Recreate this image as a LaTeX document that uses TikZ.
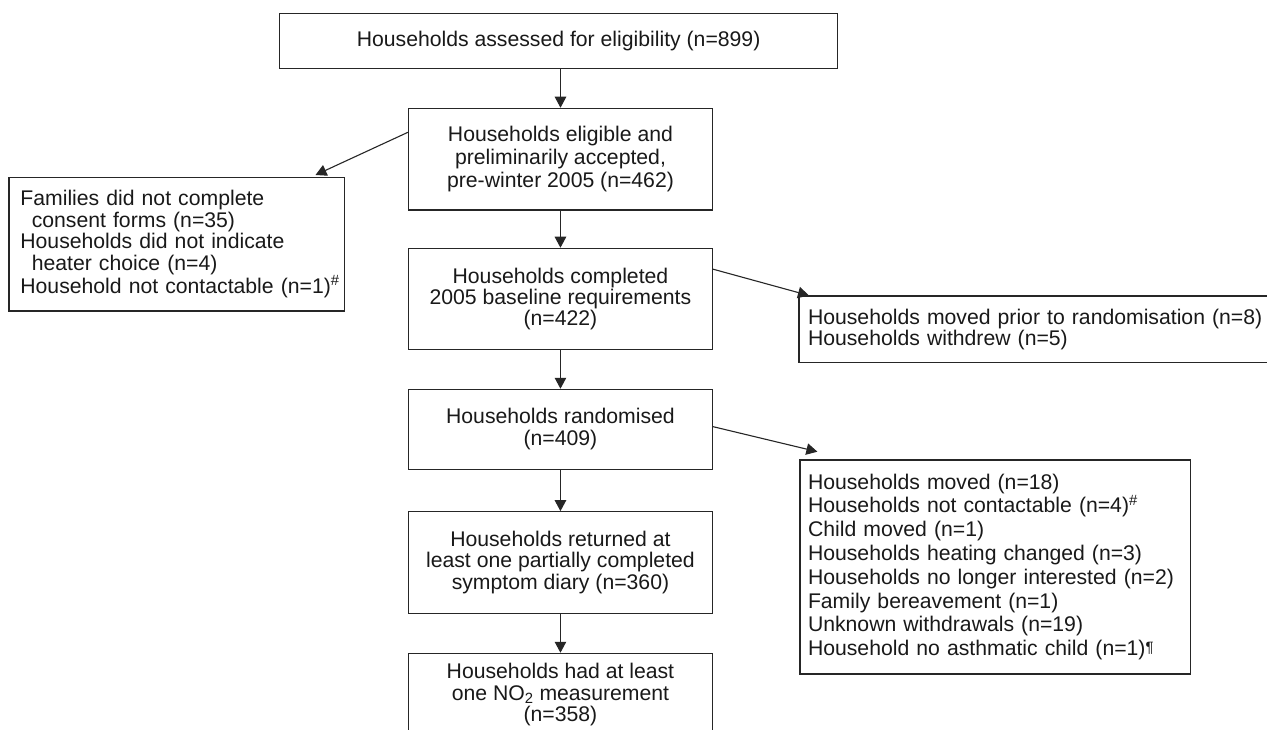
\documentclass[tikz,border=0pt]{standalone}
\usepackage{fontspec}
\setmainfont{Liberation Sans}
\usetikzlibrary{arrows.meta}
\begin{document}
\begin{tikzpicture}[x=1pt,y=-1pt,
  box/.style={draw=black!85, line width=1.1pt, inner sep=0pt, text=black!90,
    font=\fontsize{21.2}{22}\selectfont},
  cbox/.style={box, align=center, minimum width=303.9pt},
  lbox/.style={box, align=left},
  arr/.style={draw=black!85, line width=1.1pt, -{Triangle[length=11pt,width=11.5pt]}}]
\useasboundingbox (0,0) rectangle (1267,730);
\clip (0,0) rectangle (1267,730);
\fill[white] (0,0) rectangle (1267,730);

% main column
\node[box, minimum width=558pt, minimum height=55pt] (b1) at (558.6,40.8)
  {Households assessed for eligibility (n=899)};
\node[cbox, minimum height=101.7pt, font=\fontsize{21.2}{23}\selectfont] (b2) at (560.5,159.15)
  {Households eligible and\\ preliminarily accepted,\\ pre-winter 2005 (n=462)};
\node[cbox, minimum height=101pt, font=\fontsize{21.2}{21}\selectfont] (b3) at (560.45,298.8)
  {Households completed\\ 2005 baseline requirements\\ (n=422)};
\node[cbox, minimum height=80pt, font=\fontsize{21.2}{21.7}\selectfont] (b4) at (560.45,429.3)
  {Households randomised\\ (n=409)};
\node[cbox, minimum height=101.6pt, font=\fontsize{21.2}{21.7}\selectfont] (b5) at (560.45,562.5)
  {Households returned at\\ least one partially completed\\ symptom diary (n=360)};
\node[cbox, minimum height=83pt, font=\fontsize{21.2}{21.5}\selectfont] (b6) at (560.45,694.8)
  {Households had at least\\ one NO\textsubscript{2} measurement\\ (n=358)};

% side boxes
\node[lbox, inner xsep=11.4pt, text width=312.7pt, minimum height=133.5pt,
  font=\fontsize{21.2}{21.5}\selectfont] (bL) at (176.75,244.25)
  {\mbox{Families did not complete}\\
   \mbox{\hspace*{11.4pt}consent forms (n=35)}\\
   \mbox{Households did not indicate}\\
   \mbox{\hspace*{11.4pt}heater choice (n=4)}\\
   \mbox{Household not contactable (n=1)\textsuperscript{\#}}};
\node[lbox, inner xsep=9pt, text width=473pt, minimum height=66.7pt,
  font=\fontsize{21.2}{21.3}\selectfont] (bA) at (1044.5,329.35)
  {Households moved prior to randomisation (n=8)\\
   Households withdrew (n=5)};
\node[lbox, inner xsep=8pt, text width=374.7pt, minimum height=214pt,
  font=\fontsize{21.2}{23.8}\selectfont] (bB) at (995.35,567)
  {Households moved (n=18)\\
   Households not contactable (n=4)\textsuperscript{\#}\\
   Child moved (n=1)\\
   Households heating changed (n=3)\\
   Households no longer interested (n=2)\\
   Family bereavement (n=1)\\
   Unknown withdrawals (n=19)\\
   \mbox{Household no asthmatic child (n=1)\raisebox{3pt}{\fontsize{15}{15}\selectfont ¶}}};

% free ends of the side arrows
\coordinate (tL) at (315.5,175);
\coordinate (tA) at (809,295.5);
\coordinate (tB) at (817.4,451.7);

% vertical connectors
\draw[arr] (b2.north |- b1.south) -- (b2.north);
\draw[arr] (b3.north |- b2.south) -- (b3.north);
\draw[arr] (b4.north |- b3.south) -- (b4.north);
\draw[arr] (b5.north |- b4.south) -- (b5.north);
\draw[arr] (b6.north |- b5.south) -- (b6.north);

% side connectors
\draw[arr] (b2.170.6) -- (tL);
\draw[arr] (b3.11.7) -- (tA);
\draw[arr] (b4.1.24) -- (tB);
\end{tikzpicture}
\end{document}
